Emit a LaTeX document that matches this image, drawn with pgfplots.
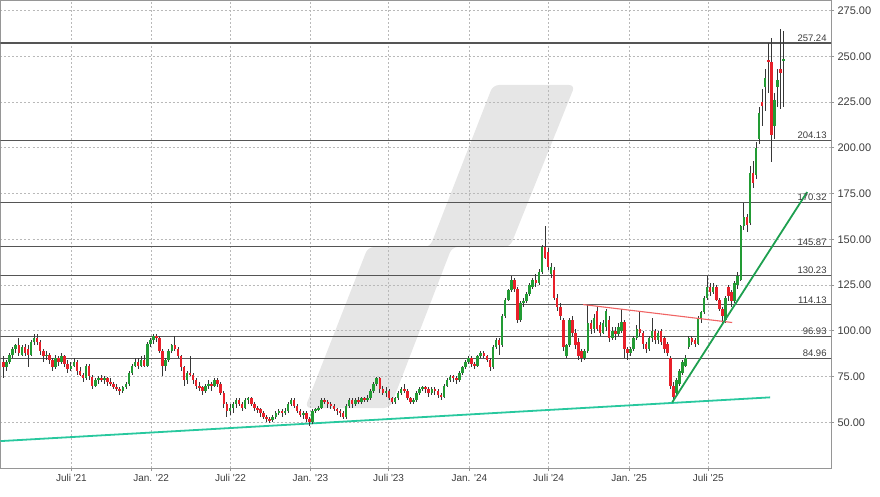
\documentclass[border=0pt]{standalone}
\usepackage{pgfplots}
\pgfplotsset{compat=1.18}
\usepackage{pgfplotstable}
\usepackage{fontspec}
\setmainfont{Liberation Sans}
\definecolor{cgreen}{RGB}{34,155,52}
\definecolor{cred}{RGB}{232,32,42}
\definecolor{wickc}{RGB}{55,55,55}
\definecolor{tealc}{RGB}{40,200,158}
\definecolor{trendg}{RGB}{30,160,80}
\definecolor{trendr}{RGB}{240,100,100}
\definecolor{levelc}{RGB}{85,85,85}
\definecolor{gridgray}{RGB}{185,185,185}
\definecolor{axisgray}{RGB}{150,150,150}
\definecolor{labelgray}{RGB}{60,60,60}
\definecolor{wmgray}{RGB}{230,230,230}
\newcommand{\q}{\textquotesingle}

\pgfplotstableread{
w o h l c
0 83 86 74 80
1 80 84 78 83
2 83 88 82 87
3 87 91 85 90
4 90 93 88 92
5 92 96 86 88
6 87 92 86 91
7 91 93 86 88
8 90 92 80 87
9 87 95 86 94
10 94 98 92 96
11 96 98 92 94
12 94 95 87 89
13 89 90 83 86
14 86 89 84 87
15 87 88 82 84
16 84 85 78 80
17 80 87 79 85
18 85 86 81 83
19 83 88 82 86
20 86 87 80 82
21 82 84 77 79
22 79 83 78 81
23 81 85 80 83
24 83 84 76 78
25 78 80 75 76
26 76 77 72 74
27 74 82 73 81
28 81 82 73 75
29 75 76 68 70
30 70 74 69 73
31 73 75 71 74
32 74 76 72 73
33 73 75 71 74
34 74 75 70 72
35 72 74 70 71
36 71 72 68 69
37 69 71 67 68
38 68 69 65 67
39 67 70 66 69
40 69 72 68 71
41 71 78 70 77
42 77 82 76 81
43 81 85 80 83
44 83 85 79 81
45 81 86 80 84
46 84 87 80 81
47 81 94 80 93
48 93 96 91 95
49 95 98 93 97
50 97 98 94 96
51 96 97 88 89
52 89 90 75 81
53 81 85 78 84
54 84 90 83 89
55 89 93 88 92
56 92 97 89 90
57 90 91 85 86
58 86 87 78 80
59 80 81 70 73
60 73 78 71 77
61 77 86 75 76
62 76 77 71 73
63 73 74 68 70
64 70 72 67 69
65 69 70 65 67
66 67 71 66 70
67 70 73 68 71
68 71 72 67 70
69 70 74 69 73
70 73 74 69 71
71 71 72 65 66
72 66 67 58 60
73 60 61 53 56
74 56 60 54 58
75 58 61 55 60
76 60 63 58 62
77 62 63 59 60
78 60 61 56 58
79 58 63 57 62
80 62 64 60 63
81 63 64 59 60
82 60 61 56 58
83 58 59 55 57
84 57 58 53 55
85 55 56 52 53
86 53 54 50 52
87 52 53 49.5 51
88 51 54 50 53
89 53 56 52 55
90 55 57 54 56
91 56 57 53 55
92 55 58 54 56
93 56 61 55 60
94 60 63 59 62
95 62 63 58 59
96 59 60 55 56
97 56 57 53 54
98 54 56 52 55
99 55 56 50 52
100 52 53 48 50
101 50 57 49 56
102 56 58 55 57
103 57 59 56 58
104 58 63 57 62
105 62 63 60 61
106 61 62 58 60
107 60 61 57 59
108 59 60 56 57
109 57 58 54 56
110 56 57 53 55
111 55 56 52 53
112 53 60 52 59
113 59 63 58 62
114 62 63 58 60
115 60 63 59 62
116 62 64 60 61
117 61 64 60 63
118 63 64 61 62
119 62 65 61 63
120 63 68 62 67
121 67 72 66 71
122 71 75 70 74
123 74 75 66 68
124 68 70 65 66
125 66 69 64 67
126 67 68 62 63
127 63 64 60 61
128 61 64 60 63
129 63 67 62 66
130 66 69 65 68
131 68 71 66 67
132 67 68 62 63
133 63 64 60 61
134 61 63 60 62
135 62 67 61 66
136 66 69 65 68
137 68 70 67 69
138 69 70 66 68
139 68 69 64 66
140 66 69 65 68
141 68 69 65 67
142 67 68 63 65
143 65 66 62 64
144 64 71 63 70
145 70 74 69 73
146 73 76 72 75
147 75 76 72 74
148 74 75 71 73
149 73 78 72 77
150 77 81 76 80
151 80 84 79 83
152 83 86 82 85
153 85 86 80 82
154 82 83 79 81
155 81 87 80 86
156 86 89 85 88
157 88 89 85 86
158 86 87 83 84
159 84 85 78 80
160 80 92 79 91
161 91 96 90 95
162 95 96 87 92
163 92 109 91 108
164 108 118 107 117
165 117 123 116 122
166 122 130 121 128
167 128 129 121 123
168 123 124 104 106
169 106 116 105 115
170 115 118 113 116
171 116 121 115 120
172 120 126 119 125
173 124 129 123 128
174 128 131 124 126
175 126 134 125 132
176 132 147 131 146
177 146 157 139 140
178 143 145 133 135
179 131 137 129 135
180 133 135 117 118
181 118 120 111 113
182 113 115 106 108
183 106 107 89 91
184 86 93 85 92
185 92 107 91 106
186 106 108 97 99
187 99 101 90 92
188 94 96 84 86
189 89 90 83 85
190 85 90 84 89
191 89 114 88 104
192 104 106 98 101
193 101 109 99 107
194 111 113 100 101
195 103 105 97 99
196 99 106 98 104
197 102 112 100 111
198 106 108 94 96
199 96 102 95 100
200 100 102 95 98
201 98 104 97 102
202 100 112 99 105
203 105 106 85 90
204 90 91 84 88
205 88 91 86 90
206 90 97 89 96
207 96 103 95 101
208 101 110 97 99
209 99 100 90 93
210 93 94 88 90
211 90 97 89 96
212 96 107 94 100
213 100 101 93 95
214 95 100 93 99
215 100 101 92 94
216 96 97 88 90
217 93 94 86 88
218 85 86 68 70
219 70 72 61.5 64
220 66 74 65 73
221 71 79 70 78
222 77 84 76 83
223 81 87 80 85
224 91 97 90 96
225 96 97 92 94
226 95 96 91 93
227 93 108 92 107
228 107 111 104 110
229 110 119 109 118
230 118 130 117 124
231 124 126 119 121
232 121 126 120 124
233 124 125 116 117
234 117 118 111 112
235 112 113 104 108
236 106 119 104 118
237 124 125 116 119
238 121 122 113 116
239 116 127 115 126
240 125 132 123 130
241 128 158 127 157
242 157 170 155 162
243 162 164 154 158
244 159 190 158 186
245 186 193 178 181
246 185 203 183 200
247 205 222 202 219
248 225 232 212 223
249 233 243 220 238
250 248 257 230 247
251 247 260 192 207
252 212 230 205 226
253 233 243 222 237
254 243 265 221 241
255 247.5 264 222 248.5
}\candles

\begin{document}
\begin{tikzpicture}
% watermark (background decoration)
\fill[wmgray, rounded corners=6pt] (305pt,88pt) -- (390pt,88pt) -- (452pt,249pt) -- (510pt,249pt) -- (575pt,411pt) -- (493pt,411pt) -- (430pt,249pt) -- (368pt,249pt) -- cycle;
\begin{axis}[
  at={(0.5pt,495.5pt)}, anchor=north west,
  scale only axis, width=830.5pt, height=467.5pt,
  xmin=-0.98, xmax=270.5, ymin=25, ymax=280.45,
  axis line style={draw=axisgray, line width=0.6pt},
  xtick={22.2,48.25,74.2,100.3,125.9,152.3,178.2,204.5,230.4},
  xticklabels={Juli \q21, Jan. \q22, Juli \q22, Jan. \q23, Juli \q23, Jan. \q24, Juli \q24, Jan. \q25, Juli \q25},
  xtick pos=bottom,
  xtick style={draw=axisgray, line width=0.6pt},
  xticklabel style={font=\fontsize{10}{12}\selectfont, text=labelgray},
  ytick={50,75,...,275},
  yticklabels={50.00,75.00,100.00,125.00,150.00,175.00,200.00,225.00,250.00,275.00},
  ytick pos=right,
  ytick style={draw=axisgray, line width=0.6pt},
  yticklabel style={font=\fontsize{11}{13}\selectfont, text=labelgray},
  tick align=outside, major tick length=3pt,
  grid=major,
  major grid style={draw=gridgray, dash pattern=on 2pt off 2pt, line width=0.5pt},
]
% levels
\addplot[forget plot, levelc, line width=1.1pt] coordinates {(-2,257.24) (272,257.24)};
\addplot[forget plot, levelc, line width=1.1pt] coordinates {(-2,204.13) (272,204.13)};
\addplot[forget plot, levelc, line width=1.1pt] coordinates {(-2,170.32) (272,170.32)};
\addplot[forget plot, levelc, line width=1.1pt] coordinates {(-2,145.87) (272,145.87)};
\addplot[forget plot, levelc, line width=1.1pt] coordinates {(-2,130.23) (272,130.23)};
\addplot[forget plot, levelc, line width=1.1pt] coordinates {(-2,114.13) (272,114.13)};
\addplot[forget plot, levelc, line width=1.1pt] coordinates {(-2,96.93) (272,96.93)};
\addplot[forget plot, levelc, line width=1.1pt] coordinates {(-2,84.96) (272,84.96)};
% long-term support
\addplot[forget plot, tealc, line width=1.8pt] coordinates {(-0.98,39.7) (250.6,63.6)};
% wicks
\addplot[forget plot, draw=none, mark=none,
  error bars/.cd, y dir=both, y explicit, error mark=none,
  error bar style={line width=0.7pt, draw=wickc, solid}]
  table[x=w, y expr={(\thisrow{h}+\thisrow{l})/2}, y error expr={(\thisrow{h}-\thisrow{l})/2}] {\candles};
% up bodies (zero length for down candles)
\addplot[forget plot, draw=none, mark=none,
  error bars/.cd, y dir=both, y explicit, error mark=none,
  error bar style={line width=2.5pt, draw=cgreen, solid, line cap=butt}]
  table[x=w, y expr={(\thisrow{o}+\thisrow{c})/2}, y error expr={max(\thisrow{c}-\thisrow{o},0)/2}] {\candles};
% down bodies (zero length for up candles)
\addplot[forget plot, draw=none, mark=none,
  error bars/.cd, y dir=both, y explicit, error mark=none,
  error bar style={line width=2.5pt, draw=cred, solid, line cap=butt}]
  table[x=w, y expr={(\thisrow{o}+\thisrow{c})/2}, y error expr={max(\thisrow{o}-\thisrow{c},0)/2}] {\candles};
% trend lines
\addplot[forget plot, trendr, line width=1.1pt] coordinates {(189.5,114.3) (238.2,104.5)};
\addplot[forget plot, trendg, line width=1.8pt] coordinates {(218.6,60.9) (262.7,175.8)};
% level labels
\node[anchor=south east, inner sep=1.5pt, font=\fontsize{9.5}{11}\selectfont, text=labelgray] at (axis cs:269.6,257.24) {257.24};
\node[anchor=south east, inner sep=1.5pt, font=\fontsize{9.5}{11}\selectfont, text=labelgray] at (axis cs:269.6,204.13) {204.13};
\node[anchor=south east, inner sep=1.5pt, font=\fontsize{9.5}{11}\selectfont, text=labelgray] at (axis cs:269.6,170.32) {170.32};
\node[anchor=south east, inner sep=1.5pt, font=\fontsize{9.5}{11}\selectfont, text=labelgray] at (axis cs:269.6,145.87) {145.87};
\node[anchor=south east, inner sep=1.5pt, font=\fontsize{9.5}{11}\selectfont, text=labelgray] at (axis cs:269.6,130.23) {130.23};
\node[anchor=south east, inner sep=1.5pt, font=\fontsize{9.5}{11}\selectfont, text=labelgray] at (axis cs:269.6,114.13) {114.13};
\node[anchor=south east, inner sep=1.5pt, font=\fontsize{9.5}{11}\selectfont, text=labelgray] at (axis cs:269.6,96.93) {96.93};
\node[anchor=south east, inner sep=1.5pt, font=\fontsize{9.5}{11}\selectfont, text=labelgray] at (axis cs:269.6,84.96) {84.96};
\end{axis}
\path (0,0) rectangle (880pt,496pt);
\end{tikzpicture}
\end{document}
